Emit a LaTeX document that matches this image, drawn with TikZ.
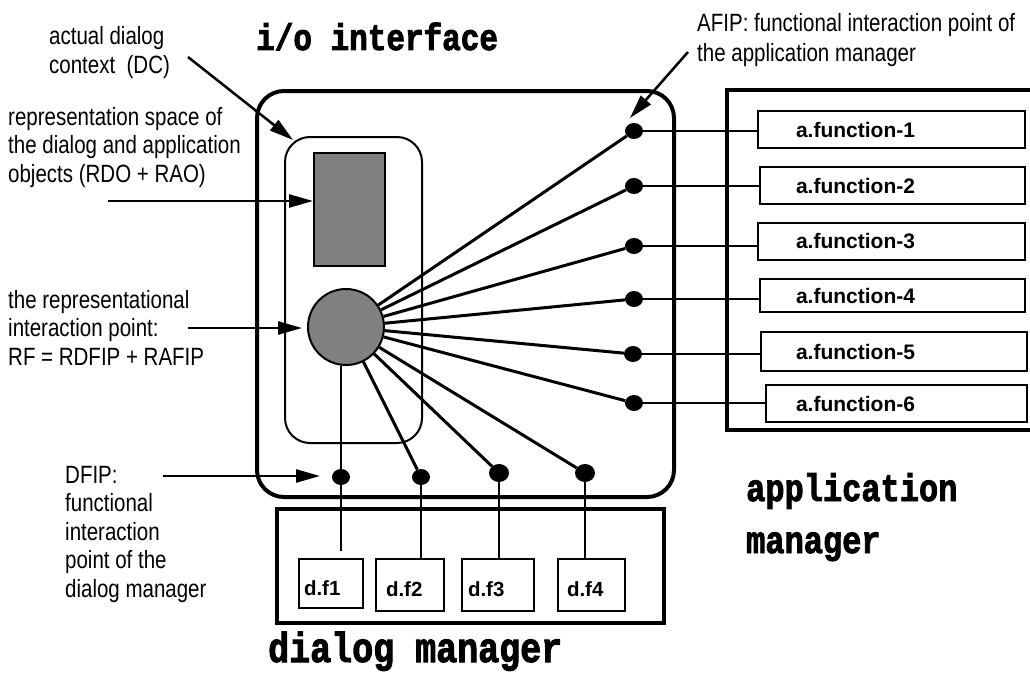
\documentclass[tikz,border=0pt]{standalone}
\usepackage{fontspec}
\usetikzlibrary{arrows.meta,shapes.geometric}
\setmainfont{Liberation Sans}
\newfontfamily\labfont[FakeStretch=0.82]{Liberation Sans}
\newfontfamily\titlefont[BoldFeatures={FakeBold=2.5}]{Liberation Mono}
\newcommand\mylines[1]{\begin{tabular}[t]{@{}l@{}}#1\end{tabular}}
\newcommand\dflow[1]{\raisebox{-4pt}[15pt][0pt]{#1}}
\begin{document}
\begin{tikzpicture}[x=1pt,y=-1pt,
  lab/.style={font=\labfont\fontsize{25}{28.5}\selectfont, anchor=base west, inner sep=0pt},
  ttl/.style={font=\titlefont\bfseries\fontsize{#1}{#1}\selectfont, anchor=base west, inner sep=0pt},
  afbox/.style={draw, line width=2pt, inner xsep=#1, inner ysep=0pt, align=left,
     font=\bfseries\fontsize{21}{24}\selectfont, anchor=west},
  dfbox/.style={draw, line width=2pt, inner xsep=#1, inner ysep=0pt, align=left,
     font=\bfseries\fontsize{20.5}{24}\selectfont, anchor=north west},
  dot/.style={ellipse, fill=black, inner sep=0pt, minimum width=18pt, minimum height=16pt},
  bigdot/.style={ellipse, fill=black, inner sep=0pt, minimum width=20pt, minimum height=18pt},
  spoke/.style={line width=3pt},
  thin/.style={line width=2pt},
  arr/.style={line width=2.5pt, -{Triangle[length=24pt,width=13pt]}},
]
\useasboundingbox (0,0) rectangle (1030,677);

% titles
\node[ttl=31] (tio) at (256,50) {\scalebox{1}[1.2]{i/o interface}};
\node[ttl=32] (tapp) at (746,501) {\scalebox{1}[1.2]{application}};
\node[ttl=32] (tman) at (746,553) {\scalebox{1}[1.2]{manager}};
\node[ttl=35] (tdm) at (268,662) {\scalebox{1}[1.2]{dialog manager}};

% containers
\draw[line width=4pt, rounded corners=27pt] (257,91) rectangle (674,497);
\draw[thin, rounded corners=25pt] (285,137) rectangle (422,443);
\draw[line width=4.5pt] (1040,90) -- (727,90) -- (727,430) -- (1040,430);
\draw[line width=4pt] (277,509) rectangle (664,623);

% representation objects
\node[draw, fill=gray, line width=2pt, minimum width=71pt, minimum height=113pt, inner sep=0pt] (rr) at (349.5,209.5) {};
\node[circle, draw, fill=gray, line width=2pt, minimum size=76pt, inner sep=0pt] (circ) at (346,327) {};

% application functions
\node[afbox=38pt, text width=191pt, minimum height=37pt] (af1) at (757,129.5) {a.function-1};
\node[afbox=36pt, text width=193pt, minimum height=37pt] (af2) at (759,185.5) {a.function-2};
\node[afbox=38pt, text width=191pt, minimum height=37pt] (af3) at (757,241.5) {a.function-3};
\node[afbox=36pt, text width=193pt, minimum height=33pt] (af4) at (759,295.5) {a.function-4};
\node[afbox=35pt, text width=196pt, minimum height=39pt] (af5) at (760,351.5) {a.function-5};
\node[afbox=30pt, text width=201pt, minimum height=37pt] (af6) at (765,403.5) {a.function-6};

% dialog functions
\node[dfbox=5pt, text width=54pt, minimum height=49pt] (df1) at (298,558) {\dflow{d.f1}};
\node[dfbox=10pt, text width=48pt, minimum height=52pt] (df2) at (375,558) {\dflow{d.f2}};
\node[dfbox=6pt, text width=60pt, minimum height=52pt] (df3) at (461,558) {\dflow{d.f3}};
\node[dfbox=9pt, text width=49pt, minimum height=52pt] (df4) at (557,558) {\dflow{d.f4}};

% interaction points
\node[dot] (a1) at (634,131) {};
\node[dot] (a2) at (634,186) {};
\node[dot] (a3) at (634,246) {};
\node[dot] (a4) at (634,299) {};
\node[dot] (a5) at (633,354) {};
\node[dot] (a6) at (634,403) {};
\node[dot] (b1) at (341,477) {};
\node[dot] (b2) at (421,477) {};
\node[bigdot] (b3) at (499,473) {};
\node[bigdot] (b4) at (585,473) {};
\coordinate (c1) at (341,551);

% spokes
\foreach \d in {a1,a2,a3,a4,a5,a6,b2,b3,b4} {\draw[spoke] (circ) -- (\d);}
\draw[thin] (b1 |- circ.south) -- (c1);
\foreach \d/\f in {b2/df2,b3/df3,b4/df4} {\draw[thin] (\d) -- (\d |- \f.north);}
\foreach \d/\f in {a1/af1,a2/af2,a3/af3,a4/af4,a5/af5,a6/af6} {\draw[thin] (\d) -- (\d -| \f.west);}

% labels
\node[lab] (ldc) at (49,45) {\mylines{actual dialog\\context~ (DC)}};
\node[lab] (lrs) at (8,125) {\mylines{representation space of\\the dialog and application\\objects (RDO + RAO)}};
\node[lab] (lrip) at (8,308) {\mylines{the representational\\interaction point:\\RF = RDFIP + RAFIP}};
\node[lab] (ldfip) at (65,483) {\mylines{DFIP:\\functional\\interaction\\point of the\\dialog manager}};
\node[lab, font=\labfont\fontsize{25}{30}\selectfont] (lafip) at (697,32) {\mylines{AFIP: functional interaction point of\\the application manager}};

% pointer arrows
\coordinate (s1) at (188,57);   \coordinate (t1) at (293,140);
\coordinate (s2) at (108,201);
\coordinate (s3) at (188,328);
\coordinate (s4) at (163,476);  \coordinate (t4) at (320,476);
\coordinate (s5) at (688,52);   \coordinate (t5) at (630,118);
\draw[arr] (s1) -- (t1);
\draw[arr] (s2) -- (rr.west |- s2);
\draw[arr] (s3) -- ([xshift=-5pt]circ.west |- s3);
\draw[arr] (s4) -- (t4);
\draw[arr] (s5) -- (t5);
\end{tikzpicture}
\end{document}
